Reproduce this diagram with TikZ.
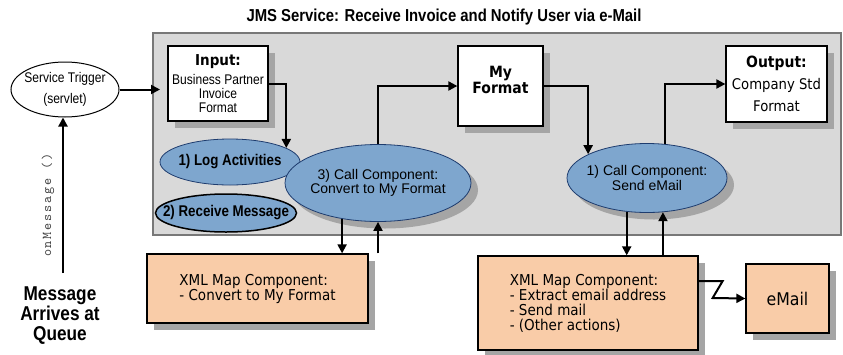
\documentclass[tikz,border=0pt]{standalone}
\usepackage{fontspec}
\setmainfont{Liberation Sans}
\newfontfamily\narrowfont{Liberation Sans}[FakeStretch=0.86]
\newfontfamily\tahomafont{DejaVu Sans}[FakeStretch=0.9]
\newfontfamily\onmsgfont{lmmono10-regular.otf}[LetterSpace=14]
\usetikzlibrary{shapes.geometric,arrows.meta,shadows}
\definecolor{panelgray}{RGB}{217,217,217}
\definecolor{panelline}{RGB}{120,120,120}
\definecolor{ovalblue}{RGB}{126,166,206}
\definecolor{ovalline}{RGB}{30,60,110}
\definecolor{peach}{RGB}{249,204,168}
\definecolor{shadowgray}{RGB}{165,165,165}
\begin{document}
\begin{tikzpicture}[x=1pt, y=-1pt,
    arr/.style={line width=2pt, -{Triangle[length=9pt,width=9pt]}},
    shade/.style={drop shadow={shadow xshift=7pt, shadow yshift=-7pt, fill=shadowgray, opacity=1}},
    databox/.style={draw, line width=1.3pt, fill=white, inner sep=1pt, align=center, shade},
    mapbox/.style={draw, line width=1.3pt, fill=peach, inner sep=1pt, align=left, shade,
      font=\tahomafont\fontsize{15}{15}\selectfont},
    callout/.style={ellipse, draw=ovalline, line width=0.8pt, fill=ovalblue, inner xsep=-22pt,
      inner ysep=0pt, align=center, font=\fontsize{14}{14.5}\selectfont},
    boldcall/.style={callout, font=\narrowfont\bfseries\fontsize{15.5}{16}\selectfont},
    boxhead/.style={font=\tahomafont\bfseries\fontsize{15.5}{16}\selectfont}]
  \useasboundingbox (0,0) rectangle (843,354);
  % title and panel
  \node[font=\narrowfont\bfseries\fontsize{17.3}{19}\selectfont] (title) at (444,17)
    {JMS Service: Receive Invoice and Notify User via e-Mail};
  \draw[draw=panelline, fill=panelgray, line width=1.2pt] (153,33) rectangle (841,235);
  % trigger side
  \node[ellipse, draw, line width=1pt, fill=white, minimum width=108, minimum height=55,
    inner xsep=-22pt, inner ysep=0pt, align=center, font=\narrowfont\fontsize{14}{21}\selectfont]
    (trigger) at (65,89.5) {Service Trigger\\(servlet)};
  \node[align=center, font=\narrowfont\bfseries\fontsize{20}{20}\selectfont] (queue) at (60,316)
    {Message\\Arrives at\\Queue};
  \coordinate (queuetop) at (63,273);
  \draw[arr] (queuetop) -- (queuetop |- trigger.south);
  \node[rotate=90, text=black!75, font=\onmsgfont\fontsize{13.5}{13.5}\selectfont]
    (onmsg) at (48,205) {onMessage ()};
  \coordinate (panelin) at (160,89.5);
  \draw[arr] (trigger.east) -- (panelin);
  % data boxes
  \node[databox, minimum width=100, minimum height=75, font=\narrowfont\fontsize{14}{14}\selectfont]
    (input) at (218,83.5)
    {{\tahomafont\bfseries\fontsize{15}{15}\selectfont Input:}\\[5pt]Business Partner\\Invoice\\Format};
  \node[databox, boxhead, minimum width=85, minimum height=80, text depth=12pt] (myformat) at (500.5,86)
    {My\\Format};
  \node[databox, minimum width=101, minimum height=76, font=\tahomafont\fontsize{14.7}{22}\selectfont]
    (output) at (776.5,84)
    {{\bfseries\fontsize{15.5}{22}\selectfont Output:}\\Company Std\\Format};
  % calls
  \node[boldcall, minimum width=140, minimum height=46] (logact) at (230,162) {1) Log Activities};
  \node[boldcall, draw=black, line width=1.5pt, minimum width=141, minimum height=38]
    (receive) at (226,213) {2) Receive Message};
  \node[callout, shade, minimum width=186, minimum height=77] (call3) at (378,183)
    {3) Call Component:\\Convert to My Format};
  \node[callout, shade, minimum width=160, minimum height=69] (sendmail) at (647,178)
    {1) Call Component:\\Send eMail};
  % map components
  \node[mapbox, minimum width=221, minimum height=69] (xml1) at (257.5,288.5)
    {XML Map Component:\\- Convert to My Format};
  \node[mapbox, minimum width=220, minimum height=94] (xml2) at (588,303)
    {XML Map Component:\\- Extract email address\\- Send mail\\- (Other actions)};
  \node[databox, fill=peach, minimum width=83, minimum height=69,
    font=\tahomafont\fontsize{17.5}{18}\selectfont] (email) at (787.5,298.5) {eMail};
  % connectors
  \draw[arr] (input.east) -| (logact.14);
  \draw[arr] (call3.north) |- (myformat.west);
  \draw[arr] (myformat.east) -| (sendmail.158);
  \draw[arr] (sendmail.62) |- (output.west);
  \draw[arr] (call3.225) -- (call3.225 |- xml1.north);
  \draw[arr] (call3.south |- xml1.north) -- (call3.south);
  \draw[arr] (sendmail.239) -- (sendmail.239 |- xml2.north);
  \draw[arr] (sendmail.295 |- xml2.north) -- (sendmail.295);
  \draw[arr] ([yshift=22pt]xml2.east) -- ++(24,0) -- ++(-10,17) -- (email.west);
\end{tikzpicture}
\end{document}
